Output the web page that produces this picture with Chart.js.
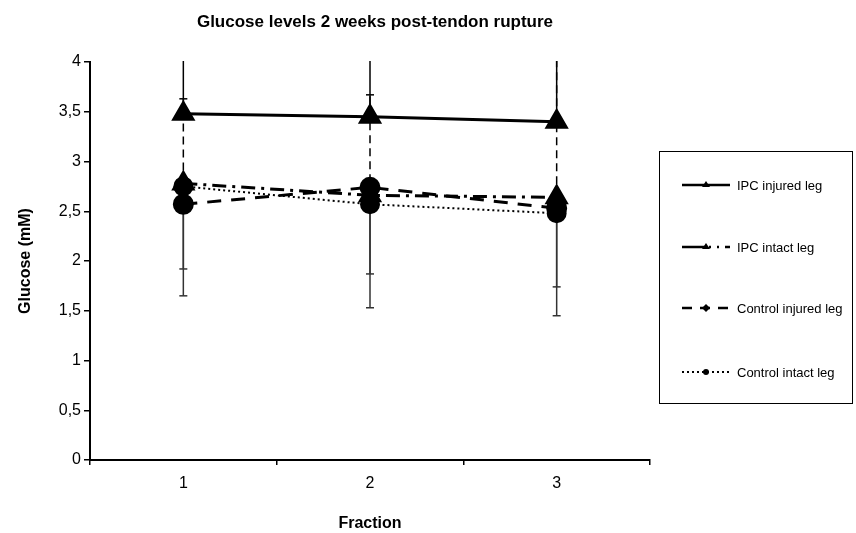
<!DOCTYPE html>
<html>
<head>
<meta charset="utf-8">
<script src="https://cdn.jsdelivr.net/npm/chart.js@4"></script>
<style>
  html,body{margin:0;padding:0;background:#fff}
  #wrap{width:856px;height:533px;position:relative}
</style>
</head>
<body>
<div id="wrap"><canvas id="c" width="856" height="533"></canvas></div>
<script>
/* Glucose levels — line chart with error bars */

const fractions=['1','2','3'];
const seriesNames=['IPC injured leg','IPC intact leg','Control injured leg','Control intact leg'];

// means (mM)
const ipcInjured=[3.48,3.45,3.40];
const ipcIntact=[2.78,2.66,2.64];
const controlInjured=[2.57,2.74,2.53];
const controlIntact=[2.75,2.57,2.48];

// error bars, upper / lower part
const ipcInjuredErrUp=[0.70,0.70,0.80];
const ipcInjuredErrDown=[0,0,0];
const ipcIntactErrUp=[0.85,1.01,1.45];
const ipcIntactErrDown=[0.86,0.79,0.90];
const controlInjuredErrUp=[0,0,0];
const controlInjuredErrDown=[0.92,1.21,1.08];
const controlIntactErrUp=[0,0,0];
const controlIntactErrDown=[0,0,0];

const yTicks=[0,0.5,1,1.5,2,2.5,3,3.5,4];

const FONT='"Liberation Sans", Arial, sans-serif';

// draws error bars from the dataset's errUp / errDown through the y scale
const errorBars={
  id:'errorBars',
  beforeDatasetsDraw(chart){
    const ctx=chart.ctx,a=chart.chartArea,ys=chart.scales.y;
    ctx.save();
    ctx.beginPath();ctx.rect(a.left,a.top-1,a.right-a.left,a.bottom-a.top+1);ctx.clip();
    chart.data.datasets.forEach((ds,i)=>{
      const meta=chart.getDatasetMeta(i);
      meta.data.forEach((pt,j)=>{
        const v=ds.data[j],x=pt.x,y0=ys.getPixelForValue(v);
        const up=ds.errUp[j],dn=ds.errDown[j];
        if(up>0){
          const y1=ys.getPixelForValue(v+up);
          ctx.strokeStyle='#000';ctx.lineWidth=1.5;ctx.setLineDash(ds.errUpDash||[]);
          ctx.beginPath();ctx.moveTo(x,y0);ctx.lineTo(x,y1);ctx.stroke();
          ctx.setLineDash([]);
          ctx.beginPath();ctx.moveTo(x-4,y1);ctx.lineTo(x+4,y1);ctx.stroke();
        }
        if(dn>0){
          const y2=ys.getPixelForValue(v-dn);
          ctx.strokeStyle='#333';ctx.lineWidth=1.5;ctx.setLineDash([]);
          ctx.beginPath();ctx.moveTo(x,y0);ctx.lineTo(x,y2);ctx.stroke();
          ctx.beginPath();ctx.moveTo(x-4,y2);ctx.lineTo(x+4,y2);ctx.stroke();
        }
      });
    });
    ctx.restore();
  }
};

// title over the plot area + boxed legend on the right
const decor={
  id:'decor',
  afterDraw(chart){
    const ctx=chart.ctx,a=chart.chartArea;
    ctx.save();
    ctx.fillStyle='#000';
    ctx.font='bold 17px '+FONT;ctx.textAlign='center';ctx.textBaseline='middle';
    ctx.fillText('Glucose levels 2 weeks post-tendon rupture',(a.left+a.right)/2+5,22);

    ctx.strokeStyle='#000';ctx.lineWidth=1;
    ctx.strokeRect(659.5,151.5,193,252);
    const rows=[185,247,308,372];
    chart.data.datasets.forEach((ds,i)=>{
      const y=rows[i];
      ctx.strokeStyle='#000';ctx.lineWidth=Math.min(ds.borderWidth,2.5);
      ctx.setLineDash(ds.legendDash||ds.borderDash||[]);
      ctx.beginPath();ctx.moveTo(682,y);ctx.lineTo(730,y);ctx.stroke();
      ctx.setLineDash([]);
      ctx.fillStyle='#000';ctx.beginPath();
      if(ds.pointStyle==='triangle'){ctx.moveTo(706,y-4);ctx.lineTo(710,y+2);ctx.lineTo(702,y+2);}
      else if(i===2){ctx.moveTo(706,y-4);ctx.lineTo(710,y);ctx.lineTo(706,y+4);ctx.lineTo(702,y);}
      else ctx.arc(706,y,3,0,Math.PI*2);
      ctx.fill();
      ctx.font='13px '+FONT;ctx.textAlign='left';ctx.textBaseline='middle';
      ctx.fillText(ds.label,737,y+1);
    });
    ctx.restore();
  }
};

function ds(label,data,up,dn,opts){
  return Object.assign({label,data,errUp:up,errDown:dn,borderColor:'#000',backgroundColor:'#000',
    pointBackgroundColor:'#000',pointBorderColor:'#000',fill:false,tension:0},opts);
}

new Chart(document.getElementById('c'),{
  type:'line',
  data:{labels:fractions,datasets:[
    ds(seriesNames[0],ipcInjured,ipcInjuredErrUp,ipcInjuredErrDown,{order:0,borderWidth:3,pointStyle:'triangle',pointRadius:11,errUpDash:[]}),
    ds(seriesNames[1],ipcIntact,ipcIntactErrUp,ipcIntactErrDown,{order:3,borderWidth:3,borderDash:[14,6,3,6],legendDash:[24,3,2,6,2,6],pointStyle:'triangle',pointRadius:11,errUpDash:[8,5]}),
    ds(seriesNames[2],controlInjured,controlInjuredErrUp,controlInjuredErrDown,{order:1,borderWidth:3,borderDash:[14,10],legendDash:[10,8],pointStyle:'circle',pointRadius:9}),
    ds(seriesNames[3],controlIntact,controlIntactErrUp,controlIntactErrDown,{order:2,borderWidth:2,borderDash:[2,3],pointStyle:'circle',pointRadius:9})
  ]},
  options:{
    responsive:false,animation:false,
    layout:{padding:{top:62,right:206,bottom:0,left:0}},
    plugins:{legend:{display:false},title:{display:false},tooltip:{enabled:false}},
    scales:{
      x:{
        offset:true,
        grid:{display:true,drawOnChartArea:false,offset:true,tickLength:5,color:'#000',lineWidth:1.5},
        border:{display:true,color:'#000',width:2},
        ticks:{color:'#000',font:{family:FONT,size:16},padding:9},
        title:{display:true,text:'Fraction',color:'#000',font:{family:FONT,size:16,weight:'bold'},padding:{top:0,bottom:0}},
        afterFit(s){s.height=73;}
      },
      y:{
        min:0,max:4,
        afterBuildTicks(s){s.ticks=yTicks.map(v=>({value:v}));},
        grid:{display:true,drawOnChartArea:false,tickLength:6,color:'#000',lineWidth:1.5},
        border:{display:true,color:'#000',width:2},
        ticks:{color:'#000',font:{family:FONT,size:16},padding:3,
          callback:v=>String(v).replace('.',',')},
        title:{display:true,text:'Glucose (mM)',color:'#000',font:{family:FONT,size:16,weight:'bold'},padding:{top:16,bottom:0}},
        afterFit(s){s.width=90;}
      }
    }
  },
  plugins:[errorBars,decor]
});
</script>
</body>
</html>
